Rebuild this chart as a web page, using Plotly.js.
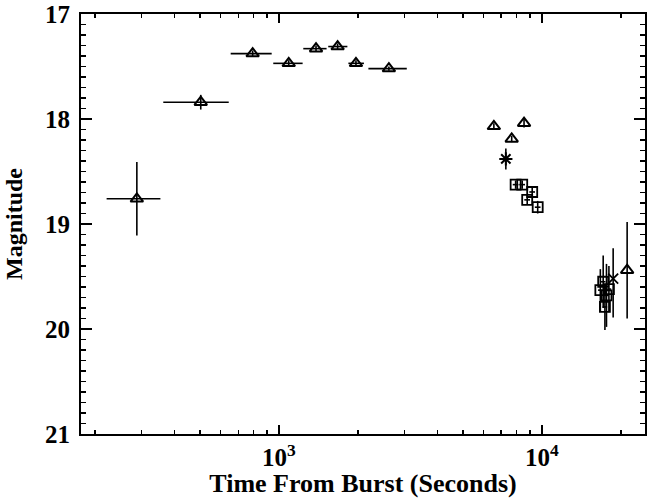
<!DOCTYPE html>
<html>
<head>
<meta charset="utf-8">
<script src="https://cdn.plot.ly/plotly-3.0.1.min.js"></script>
<style>html,body{margin:0;padding:0;background:#fff;}#chart{width:647px;height:498px;}</style>
</head>
<body>
<div id="chart"></div>
<script>
// Triangles (time in seconds, magnitude)
var triT    = [288, 504, 794, 1089, 1383, 1671, 1962, 2618, 6565, 7674, 8550, 21090];
var triTlo  = [221, 363, 655, 951, 1237, 1539, 1836, 2188, 6565, 7674, 8550, 21090];
var triThi  = [354, 644, 938, 1230, 1517, 1820, 2104, 3062, 6565, 7674, 8550, 21090];
var triMag  = [18.76, 17.84, 17.377, 17.47, 17.33, 17.31, 17.47, 17.52, 18.07, 18.19, 18.04, 19.44];
var triErr  = [0.35, 0.07, 0.03, 0.03, 0.03, 0.03, 0.03, 0.02, 0.03, 0.03, 0.04, 0.46];

// Asterisk point
var starT = [7290];
var starMag = [18.38];
var starErr = [0.10];

// X point
var crossT = [18660];
var crossMag = [19.52];
var crossErrUp = [0.29];
var crossErrDown = [0.37];

// Squares
var sqT   = [7943, 8414, 9183, 8790, 9636, 16680, 17100, 17360, 17980, 17600];
var sqMag = [18.625, 18.625, 18.695, 18.77, 18.84, 19.63, 19.55, 19.79, 19.62, 19.68];
var sqErr = [0.04, 0.04, 0.04, 0.05, 0.06, 0.20, 0.25, 0.22, 0.22, 0.30];
var sqTErrFrac = [0.025, 0.025, 0.025, 0.025, 0.025, 0.02, 0.02, 0.02, 0.02, 0.02];

// Tick labels
var xTickVals = [1000, 10000];
var xTickText = ['<b>10<sup>3</sup></b>', '<b>10<sup>4</sup></b>'];
var xMinorVals = [200,300,400,500,600,700,800,900,2000,3000,4000,5000,6000,7000,8000,9000,20000];
var yTickVals = [17, 18, 19, 20, 21];
var yTickText = ['<b>17</b>', '<b>18</b>', '<b>19</b>', '<b>20</b>', '<b>21</b>'];

var errStyle = {width: 0, thickness: 1.6, color: '#000'};

function ex(lo, hi, c) {
  return Object.assign({type: 'data', symmetric: false,
    array: c.map(function(v, i){ return hi[i] - v; }),
    arrayminus: c.map(function(v, i){ return v - lo[i]; })}, errStyle);
}

var traces = [
  {
    x: triT, y: triMag, type: 'scatter', mode: 'markers',
    marker: {symbol: 'triangle-up-open', size: 11, color: '#000', line: {width: 2, color: '#000'}},
    error_x: ex(triTlo, triThi, triT),
    error_y: Object.assign({type: 'data', array: triErr}, errStyle)
  },
  {
    x: starT, y: starMag, type: 'scatter', mode: 'markers',
    marker: {symbol: 'asterisk-open', size: 11, color: '#000', line: {width: 2, color: '#000'}},
    error_y: Object.assign({type: 'data', array: starErr}, errStyle)
  },
  {
    x: crossT, y: crossMag, type: 'scatter', mode: 'markers',
    marker: {symbol: 'x-thin-open', size: 10, color: '#000', line: {width: 1.8, color: '#000'}},
    error_y: Object.assign({type: 'data', symmetric: false, array: crossErrDown, arrayminus: crossErrUp}, errStyle)
  },
  {
    x: sqT, y: sqMag, type: 'scatter', mode: 'markers',
    marker: {symbol: 'square-open', size: 10, color: '#000', line: {width: 1.8, color: '#000'}},
    error_x: ex(sqT.map(function(v,i){return v*(1-sqTErrFrac[i]);}), sqT.map(function(v,i){return v*(1+sqTErrFrac[i]);}), sqT),
    error_y: Object.assign({type: 'data', array: sqErr}, errStyle)
  }
];

var tickFont = {family: 'Liberation Serif', size: 25, color: '#000'};

var layout = {
  width: 647, height: 498,
  margin: {l: 81, r: 2, t: 14, b: 64},
  paper_bgcolor: '#fff', plot_bgcolor: '#fff',
  showlegend: false,
  xaxis: {
    type: 'log', range: [Math.log10(176.6), Math.log10(24660)],
    tickmode: 'array', tickvals: xTickVals, ticktext: xTickText,
    ticks: 'inside', ticklen: 9, tickwidth: 2, tickcolor: '#000',
    minor: {tickmode: 'array', tickvals: xMinorVals, ticks: 'inside', ticklen: 4, tickwidth: 1.5, tickcolor: '#000'},
    showline: true, linewidth: 2, linecolor: '#000', mirror: 'ticks',
    showgrid: false, zeroline: false,
    tickfont: tickFont, ticklabelstandoff: 0,
    title: {text: '<b>Time From Burst (Seconds)</b>', font: {family: 'Liberation Serif', size: 26, color: '#000'}}
  },
  yaxis: {
    range: [21, 17],
    tickmode: 'array', tickvals: yTickVals, ticktext: yTickText,
    ticks: 'inside', ticklen: 11, tickwidth: 2, tickcolor: '#000',
    minor: {dtick: 0.1, ticks: 'inside', ticklen: 5, tickwidth: 1.5, tickcolor: '#000'},
    showline: true, linewidth: 2, linecolor: '#000', mirror: 'ticks',
    showgrid: false, zeroline: false,
    tickfont: tickFont, ticklabelstandoff: 4,
    title: {text: '<b>Magnitude</b>', font: {family: 'Liberation Serif', size: 24, color: '#000'}}
  }
};

Plotly.newPlot('chart', traces, layout, {staticPlot: true, displayModeBar: false});
</script>
</body>
</html>
